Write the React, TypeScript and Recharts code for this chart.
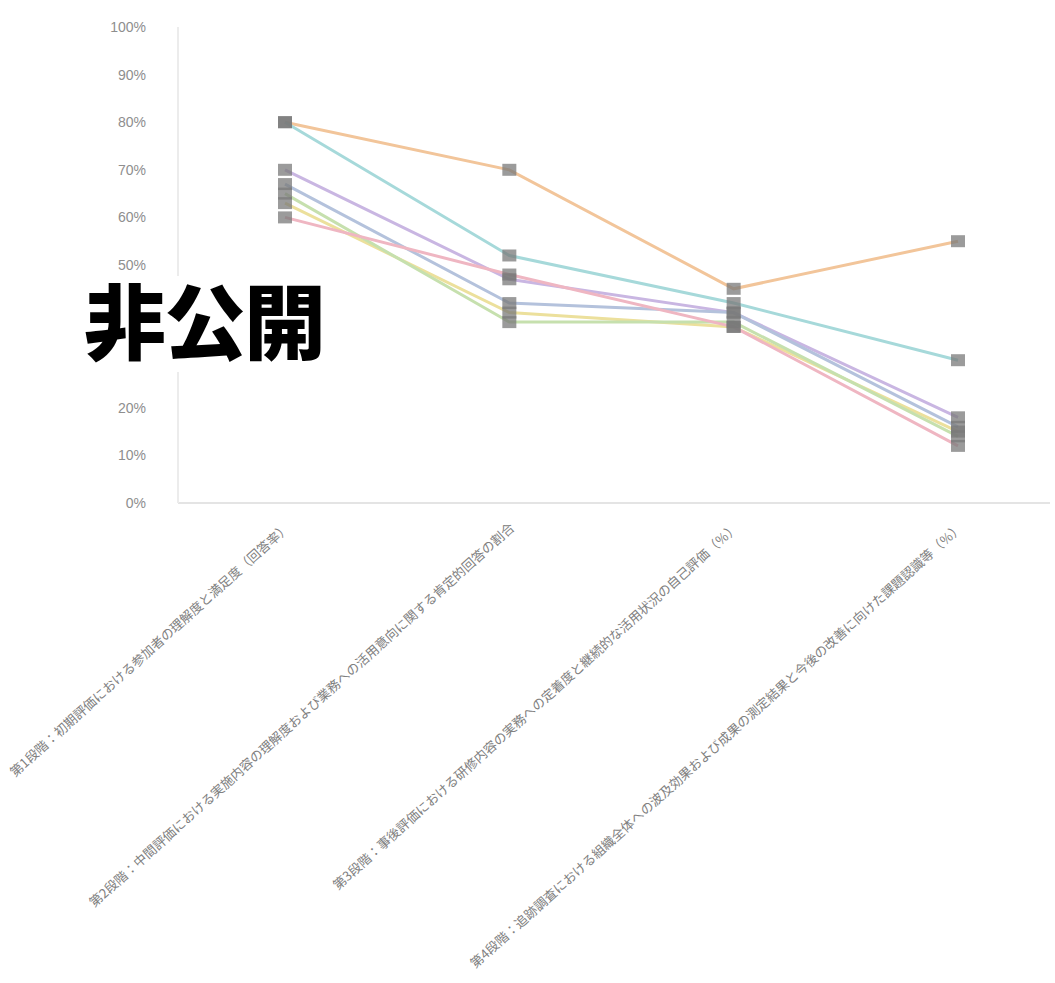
import React from 'react';
import { LineChart, Line, XAxis, YAxis } from 'recharts';

const stages = [
  '第1段階：初期評価における参加者の理解度と満足度（回答率）',
  '第2段階：中間評価における実施内容の理解度および業務への活用意向に関する肯定的回答の割合',
  '第3段階：事後評価における研修内容の実務への定着度と継続的な活用状況の自己評価（％）',
  '第4段階：追跡調査における組織全体への波及効果および成果の測定結果と今後の改善に向けた課題認識等（％）',
];

const yTicks = [0, 10, 20, 30, 40, 50, 60, 70, 80, 90, 100];

const groupA = [80, 70, 45, 55];
const groupB = [80, 52, 42, 30];
const groupC = [70, 47, 40, 18];
const groupD = [67, 42, 40, 16];
const groupE = [63, 40, 37, 15];
const groupF = [65, 38, 38, 14];
const groupG = [60, 48, 37, 12];

const seriesList = [
  { key: 'A', name: 'グループA', values: groupA, color: '#f2c59a' },
  { key: 'B', name: 'グループB', values: groupB, color: '#a6d9da' },
  { key: 'C', name: 'グループC', values: groupC, color: '#c9b6e2' },
  { key: 'D', name: 'グループD', values: groupD, color: '#b4c2dc' },
  { key: 'E', name: 'グループE', values: groupE, color: '#ece09c' },
  { key: 'F', name: 'グループF', values: groupF, color: '#c6e0ae' },
  { key: 'G', name: 'グループG', values: groupG, color: '#efb6c2' },
];

const rows = stages.map((s, i) => {
  const row: Record<string, string | number> = { stage: s };
  seriesList.forEach(sr => { row[sr.key] = sr.values[i]; });
  return row;
});

const SquareDot = (props: any) => {
  const { cx, cy } = props;
  if (cx == null || cy == null) return null;
  return <rect x={cx - 7} y={cy - 6} width={14} height={12} fill="#7a7a7a" fillOpacity={0.75} />;
};

const StageTick = (props: any) => {
  const { x, y, payload } = props;
  return (
    <g transform={`translate(${x + 6},${y + 18})`}>
      <text textAnchor="end" transform="rotate(-42)" fontSize={13} fill="#808080"
        fontFamily="'Noto Sans CJK JP', sans-serif">
        {payload.value}
      </text>
    </g>
  );
};

export default function App() {
  return (
    <div style={{ position: 'absolute', left: 0, top: 0, width: 1055, height: 983, background: '#fff' }}>
      <LineChart width={1055} height={983} data={rows} margin={{ top: 27, right: 5, bottom: 0, left: 0 }}>
        <XAxis dataKey="stage" height={480} interval={0} tick={<StageTick />}
          padding={{ left: 107, right: 92 }} axisLine={{ stroke: '#e4e4e4', strokeWidth: 2 }} tickLine={false} />
        <YAxis width={178} domain={[0, 100]} ticks={yTicks} tickFormatter={(v: number) => `${v}%`}
          axisLine={{ stroke: '#ececec', strokeWidth: 2 }} tickLine={false} tickMargin={26}
          tick={{ fill: '#8e8e8e', fontSize: 14, fontFamily: 'Arial, sans-serif' }} />
        {seriesList.map(sr => (
          <Line key={sr.key} dataKey={sr.key} name={sr.name} stroke={sr.color} strokeWidth={3}
            type="linear" dot={<SquareDot />} isAnimationActive={false} />
        ))}
      </LineChart>
      {/* 非公開ラベル（白地で下の目盛を隠す） */}
      <div style={{ position: 'absolute', left: 78, top: 276, padding: '0 6px 12px', background: '#fff',
        fontSize: 82, fontWeight: 900, color: '#000', fontFamily: "'Noto Sans CJK JP', sans-serif",
        lineHeight: 1.02, letterSpacing: -2 }}>
        非公開
      </div>
    </div>
  );
}
